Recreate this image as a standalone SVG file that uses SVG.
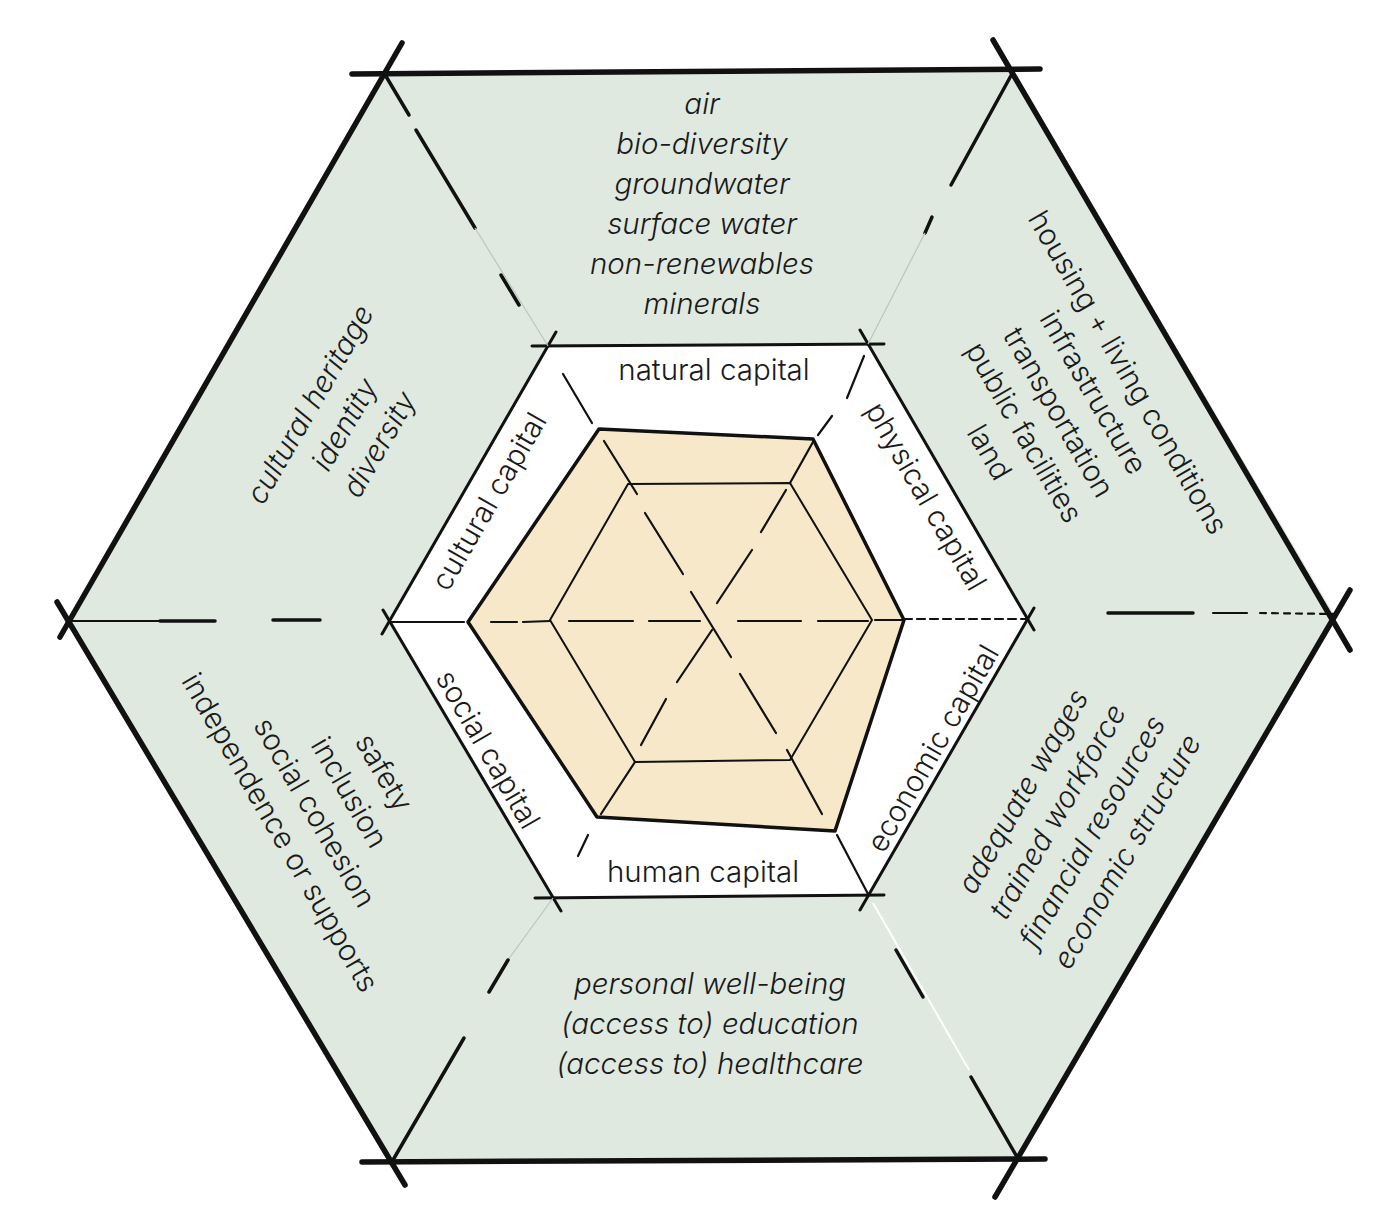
<svg xmlns="http://www.w3.org/2000/svg" width="1397" height="1215" viewBox="0 0 1397 1215">
<style>
.t{font-family:Inter,"Liberation Sans","DejaVu Sans",sans-serif;font-size:29.5px;font-weight:300;fill:#1a1a1a;text-anchor:middle}
.i{font-style:italic}
.edge{stroke:#111;stroke-linecap:round;fill:none}
.o{stroke-width:5.5}
.m{stroke-width:3}
.sp{stroke:#111;stroke-width:2.2;stroke-linecap:round;fill:none}
.spb{stroke:#111;stroke-width:3.5;stroke-linecap:round;fill:none}
.faint{stroke:#b9c7bc;stroke-width:1.2;fill:none}
</style>
<rect width="1397" height="1215" fill="#ffffff"/>
<g id="outer-ring">
<polygon points="384,73 1013,70 1335,616 1017,1160 393,1163 70,620" fill="#dfe9e0"/>
<line class="edge o" x1="352" y1="74" x2="1040" y2="69"/>
<line class="edge o" x1="402" y1="43" x2="60" y2="637"/>
<line class="edge o" x1="57" y1="602" x2="405" y2="1185"/>
<line class="edge o" x1="362" y1="1162" x2="1045" y2="1159"/>
<line class="edge o" x1="995" y1="1197" x2="1350" y2="590"/>
<line class="edge o" x1="993" y1="40" x2="1350" y2="650"/>
</g>
<g id="middle-ring">
<polygon points="548,346 868,344 1028,619 868,896 553,898 390,622" fill="#ffffff"/>
<line class="edge m" x1="532" y1="346" x2="884" y2="344"/>
<line class="edge m" x1="556" y1="332" x2="382" y2="634"/>
<line class="edge m" x1="383" y1="610" x2="561" y2="911"/>
<line class="edge m" x1="535" y1="898" x2="884" y2="895"/>
<line class="edge m" x1="860" y1="910" x2="1034" y2="608"/>
<line class="edge m" x1="860" y1="330" x2="1034" y2="630"/>
</g>
<g id="core">
<polygon points="599,429 813,439 904,620 835,831 597,817 468,622" fill="#f6e8c8" stroke="#111" stroke-width="3.5" stroke-linejoin="round"/>
<polygon points="628,484 790,483 872,620 790,760 635,762 550,620" fill="none" stroke="#111" stroke-width="2" stroke-linejoin="round"/>
</g>
<g id="spokes">
<line class="spb" x1="384" y1="73" x2="409" y2="115"/>
<line class="spb" x1="416" y1="130" x2="475" y2="228"/>
<line class="spb" x1="501" y1="275" x2="519" y2="305"/>
<line class="faint" x1="475" y1="228" x2="548" y2="346"/>
<line class="spb" x1="1013" y1="72" x2="951" y2="185"/>
<line class="spb" x1="932" y1="217" x2="925" y2="233"/>
<line class="faint" x1="925" y1="233" x2="868" y2="344"/>
<line class="sp" x1="70" y1="621" x2="215" y2="621"/>
<line class="spb" x1="160" y1="621" x2="215" y2="621"/>
<line class="spb" x1="273" y1="620" x2="320" y2="620"/>
<line class="spb" x1="1108" y1="613" x2="1193" y2="613"/>
<line class="sp" x1="1213" y1="613" x2="1247" y2="613"/>
<line class="sp" x1="1260" y1="613" x2="1335" y2="614" stroke-dasharray="6 6"/>
<line class="faint" x1="553" y1="898" x2="508" y2="960"/>
<line class="spb" x1="508" y1="960" x2="489" y2="992"/>
<line class="spb" x1="464" y1="1038" x2="393" y2="1160"/>
<line x1="873" y1="903" x2="969" y2="1070" stroke="#ffffff" stroke-width="2"/>
<line class="spb" x1="896" y1="950" x2="923" y2="997"/>
<line class="spb" x1="971" y1="1077" x2="1017" y2="1157"/>
<line class="sp" x1="563" y1="374" x2="592" y2="423"/>
<line class="sp" x1="604" y1="441" x2="637" y2="494"/>
<line class="sp" x1="645" y1="513" x2="683" y2="574"/>
<line class="sp" x1="691" y1="592" x2="731" y2="657"/>
<line class="sp" x1="740" y1="674" x2="776" y2="733"/>
<line class="sp" x1="787" y1="750" x2="822" y2="814"/>
<line class="sp" x1="837" y1="835" x2="868" y2="894"/>
<line class="sp" x1="864" y1="356" x2="847" y2="398"/>
<line class="sp" x1="832" y1="416" x2="818" y2="435"/>
<line class="sp" x1="813" y1="442" x2="790" y2="483"/>
<line class="sp" x1="786" y1="490" x2="761" y2="532"/>
<line class="sp" x1="752" y1="550" x2="717" y2="603"/>
<line class="sp" x1="712" y1="630" x2="677" y2="682"/>
<line class="sp" x1="666" y1="699" x2="641" y2="745"/>
<line class="sp" x1="635" y1="762" x2="601" y2="814"/>
<line class="sp" x1="588" y1="835" x2="578" y2="856"/>
<line class="sp" x1="390" y1="622" x2="464" y2="622"/>
<line class="sp" x1="491" y1="622" x2="517" y2="622"/>
<line class="sp" x1="523" y1="622" x2="550" y2="621"/>
<line class="sp" x1="569" y1="621" x2="633" y2="621"/>
<line class="sp" x1="649" y1="621" x2="700" y2="621"/>
<line class="sp" x1="738" y1="621" x2="801" y2="621"/>
<line class="sp" x1="818" y1="621" x2="868" y2="621"/>
<line class="sp" x1="875" y1="620" x2="902" y2="620"/>
<line class="sp" x1="904" y1="619" x2="1028" y2="619" stroke-dasharray="8 5"/>
</g>
<g id="natural-capital">
<text class="t" x="714" y="380">natural capital</text>
<text class="t i" x="702" y="114">air<tspan x="702" dy="40">bio-diversity</tspan><tspan x="702" dy="40">groundwater</tspan><tspan x="702" dy="40">surface water</tspan><tspan x="702" dy="40">non-renewables</tspan><tspan x="702" dy="40">minerals</tspan></text>
</g>
<g id="physical-capital">
<text class="t" transform="translate(925,497) rotate(60)" x="0" y="9">physical capital</text>
<text class="t" transform="translate(1127,373) rotate(60)" x="0" y="9">housing + living conditions<tspan x="0" dy="40">infrastructure</tspan><tspan x="0" dy="40">transportation</tspan><tspan x="0" dy="40">public facilities</tspan><tspan x="0" dy="40">land</tspan></text>
</g>
<g id="economic-capital">
<text class="t" transform="translate(934,749) rotate(-60)" x="0" y="9">economic capital</text>
<text class="t i" transform="translate(1024,792) rotate(-60)" x="0" y="9">adequate wages<tspan x="0" dy="40">trained workforce</tspan><tspan x="0" dy="40">financial resources</tspan><tspan x="0" dy="40">economic structure</tspan></text>
</g>
<g id="human-capital">
<text class="t" x="703" y="882">human capital</text>
<text class="t i" x="710" y="994">personal well-being<tspan x="710" dy="40">(access to) education</tspan><tspan x="710" dy="40">(access to) healthcare</tspan></text>
</g>
<g id="social-capital">
<text class="t" transform="translate(487,750) rotate(60)" x="0" y="9">social capital</text>
<text class="t" transform="translate(383,773) rotate(60)" x="0" y="9">safety<tspan x="0" dy="40">inclusion</tspan><tspan x="0" dy="40">social cohesion</tspan><tspan x="0" dy="40">independence or supports</tspan></text>
</g>
<g id="cultural-capital">
<text class="t" transform="translate(490,502) rotate(-60)" x="0" y="9">cultural capital</text>
<text class="t i" transform="translate(311,405) rotate(-60)" x="0" y="9">cultural heritage<tspan x="0" dy="40">identity</tspan><tspan x="0" dy="40">diversity</tspan></text>
</g>
</svg>
